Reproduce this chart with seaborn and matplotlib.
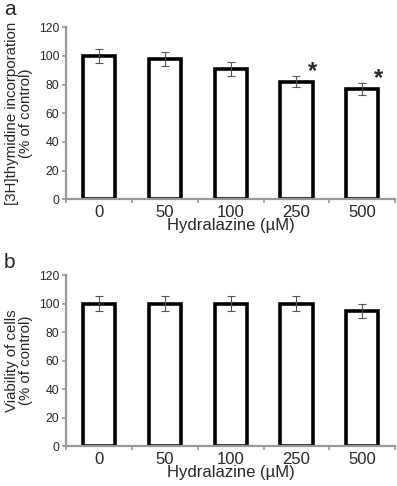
import numpy as np
import pandas as pd
import seaborn as sns
import matplotlib.pyplot as plt

# data
doses = ["0", "50", "100", "250", "500"]
thymidine = [100, 98, 91, 82, 77]
thymidine_err = [5, 5, 5, 4, 4]
viability = [100, 100, 100, 100, 95]
viability_err = [5, 5, 5, 5, 5]
signif = ["", "", "", "*", "*"]

sns.set_style("white")
plt.rcParams["font.family"] = ["Liberation Sans", "DejaVu Sans"]

fig = plt.figure(figsize=(3.97, 4.86), dpi=100)
ax_a = fig.add_axes([0.167, 0.590, 0.828, 0.354])
ax_b = fig.add_axes([0.167, 0.082, 0.828, 0.352])


def draw_panel(ax, values, errs, ylabel):
    df = pd.DataFrame({"dose": doses, "value": values})
    sns.barplot(data=df, x="dose", y="value", order=doses, color="white",
                edgecolor="black", linewidth=2.6, width=0.49, errorbar=None, ax=ax)
    ax.errorbar(np.arange(len(doses)), values, yerr=errs, fmt="none",
                ecolor="#555555", elinewidth=0.8, capsize=3, capthick=0.8)
    ax.set_ylim(0, 120)
    ax.set_xlim(-0.5, len(doses) - 0.5)
    ax.set_yticks(range(0, 121, 20))
    ax.tick_params(axis="y", labelsize=8.8, length=3, width=1.2, color="#999999",
                   direction="out", left=True, pad=2)
    ax.tick_params(axis="x", labelsize=12, length=0, pad=4)
    ax.set_xticks(np.arange(-0.5, len(doses)), minor=True)
    ax.tick_params(axis="x", which="minor", length=3, width=1.2, color="#999999",
                   direction="out", bottom=True)
    for side in ["top", "right"]:
        ax.spines[side].set_visible(False)
    for side in ["left", "bottom"]:
        ax.spines[side].set_color("#999999")
        ax.spines[side].set_linewidth(1.6)
        ax.spines[side].set_zorder(5)
    ax.set_xlabel("Hydralazine (\u00b5M)", fontsize=12, labelpad=-1)
    ax.set_ylabel(ylabel, fontsize=10.8, labelpad=4, linespacing=1.05)


draw_panel(ax_a, thymidine, thymidine_err, "[3H]thymidine incorporation\n(% of control)")
draw_panel(ax_b, viability, viability_err, "Viability of cells\n(% of control)")

for i, mark in enumerate(signif):
    if mark:
        ax_a.text(i + 0.25, thymidine[i] + thymidine_err[i] - 5, mark,
                  fontsize=17, fontweight="bold", ha="center", va="bottom")

fig.text(0.025, 1.0, "a", fontsize=15, ha="center", va="top")
fig.text(0.025, 0.480, "b", fontsize=15, ha="center", va="top")

fig.savefig("out.png", dpi=100)
